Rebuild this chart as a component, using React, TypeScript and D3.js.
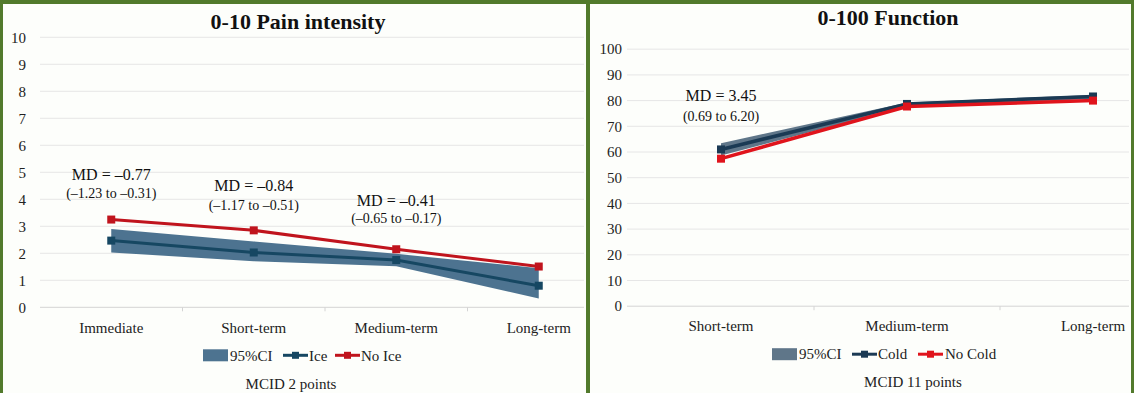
import React, { useEffect } from "react";
import * as d3 from "d3";

const W = 1134;
const H = 393;

// Pain panel data
const painCats = ["Immediate", "Short-term", "Medium-term", "Long-term"];
const painIce = [2.47, 2.03, 1.75, 0.8];
const painNoIce = [3.25, 2.85, 2.15, 1.51];
const painCiLow = [2.03, 1.71, 1.52, 0.33];
const painCiHigh = [2.9, 2.44, 1.98, 1.45];
const painTicks = [0, 1, 2, 3, 4, 5, 6, 7, 8, 9, 10];
const painNotes = [
  { cat: "Immediate", md: "MD = \u20130.77", ci: "(\u20131.23 to \u20130.31)", yMd: 4.94, yCi: 4.23 },
  { cat: "Short-term", md: "MD = \u20130.84", ci: "(\u20131.17 to \u20130.51)", yMd: 4.53, yCi: 3.79 },
  { cat: "Medium-term", md: "MD = \u20130.41", ci: "(\u20130.65 to \u20130.17)", yMd: 3.97, yCi: 3.31 },
];

// Function panel data
const funcCats = ["Short-term", "Medium-term", "Long-term"];
const funcCold = [61.0, 78.7, 81.6];
const funcNoCold = [57.4, 77.7, 80.0];
const funcCiLow = [58.6, 77.6, 80.6];
const funcCiHigh = [63.4, 79.3, 82.2];
const funcTicks = [0, 10, 20, 30, 40, 50, 60, 70, 80, 90, 100];
const funcNotes = [
  { cat: "Short-term", md: "MD = 3.45", ci: "(0.69 to 6.20)", yMd: 82.2, yCi: 74.0 },
];

const FONT = "'Liberation Serif', 'Times New Roman', serif";
const GREEN = "#527a2c";

type PanelProps = {
  title: string;
  titleX: number;
  titleY: number;
  cats: string[];
  treat: number[];
  ctrl: number[];
  lo: number[];
  hi: number[];
  ticks: number[];
  notes: { cat: string; md: string; ci: string; yMd: number; yCi: number }[];
  x: d3.ScaleBand<string>;
  y: d3.ScaleLinear<number, number>;
  gridX0: number;
  gridX1: number;
  labelX: number;
  bandColor: string;
  treatColor: string;
  ctrlColor: string;
  lineW: number;
  treatName: string;
  ctrlName: string;
  legendX: number;
  legendOff: number[]; // box text, treat line, treat text, ctrl line, ctrl text
  mcid: string;
  mcidX: number;
};

function Panel(p: PanelProps) {
  const cx = (c: string) => (p.x(c) ?? 0) + p.x.bandwidth() / 2;
  const pts = (vals: number[]) => vals.map((v, i) => [cx(p.cats[i]), p.y(v)] as [number, number]);
  const line = d3.line<[number, number]>();
  const area = d3
    .area<number>()
    .x((_, i) => cx(p.cats[i]))
    .y0((_, i) => p.y(p.lo[i]))
    .y1((_, i) => p.y(p.hi[i]));
  const boundaries = p.cats.slice(1).map((c) => p.x(c) ?? 0);
  const y0 = p.y(0);
  const ms = 8;
  const [o1, o2, o3, o4, o5] = p.legendOff;

  return (
    <g fontFamily={FONT}>
      <text x={p.titleX} y={p.titleY} textAnchor="middle" fontSize={22} fontWeight="bold" fill="#111">
        {p.title}
      </text>
      {p.ticks.map((t) => (
        <g key={t}>
          <line x1={p.gridX0} x2={p.gridX1} y1={p.y(t)} y2={p.y(t)} stroke={t === 0 ? "#d4d4d4" : "#e6e6e6"} strokeWidth={1} />
          <text x={p.labelX} y={p.y(t)} dy="0.35em" textAnchor="end" fontSize={15} fill="#222">
            {t}
          </text>
        </g>
      ))}
      {boundaries.map((b, i) => (
        <line key={i} x1={b} x2={b} y1={y0} y2={y0 + 4} stroke="#d4d4d4" />
      ))}
      {p.cats.map((c) => (
        <text key={c} x={cx(c)} y={y0 + 20} dy="0.35em" textAnchor="middle" fontSize={15} fill="#222">
          {c}
        </text>
      ))}
      <path d={area(p.lo) ?? ""} fill={p.bandColor} />
      <path d={line(pts(p.treat)) ?? ""} fill="none" stroke={p.treatColor} strokeWidth={p.lineW} />
      <path d={line(pts(p.ctrl)) ?? ""} fill="none" stroke={p.ctrlColor} strokeWidth={p.lineW} />
      {pts(p.treat).map(([px, py], i) => (
        <rect key={"t" + i} x={px - ms / 2} y={py - ms / 2} width={ms} height={ms} fill={p.treatColor} />
      ))}
      {pts(p.ctrl).map(([px, py], i) => (
        <rect key={"c" + i} x={px - ms / 2} y={py - ms / 2} width={ms} height={ms} fill={p.ctrlColor} />
      ))}
      {p.notes.map((n) => (
        <g key={n.cat}>
          <text x={cx(n.cat)} y={p.y(n.yMd)} dy="0.35em" textAnchor="middle" fontSize={16} fill="#111">
            {n.md}
          </text>
          <text x={cx(n.cat)} y={p.y(n.yCi)} dy="0.35em" textAnchor="middle" fontSize={14} fill="#111">
            {n.ci}
          </text>
        </g>
      ))}
      <g transform={`translate(${p.legendX},${y0 + 48})`} fontSize={15} fill="#222">
        <rect x={0} y={-6} width={25} height={12} fill={p.bandColor} />
        <text x={o1} dy="0.35em">95%CI</text>
        <line x1={o2} x2={o2 + 25} stroke={p.treatColor} strokeWidth={3} />
        <rect x={o2 + 9} y={-3.5} width={7} height={7} fill={p.treatColor} />
        <text x={o3} dy="0.35em">{p.treatName}</text>
        <line x1={o4} x2={o4 + 25} stroke={p.ctrlColor} strokeWidth={3} />
        <rect x={o4 + 9} y={-3.5} width={7} height={7} fill={p.ctrlColor} />
        <text x={o5} dy="0.35em">{p.ctrlName}</text>
      </g>
      <text x={p.mcidX} y={y0 + 76} dy="0.35em" textAnchor="middle" fontSize={15} fill="#222">
        {p.mcid}
      </text>
    </g>
  );
}

export default function App() {
  useEffect(() => {
    document.body.style.margin = "0";
  }, []);

  const xPain = d3.scaleBand<string>().domain(painCats).range([40, 610]).padding(0);
  const yPain = d3.scaleLinear().domain([0, 10]).range([307.3, 37.3]);
  const xFunc = d3.scaleBand<string>().domain(funcCats).range([628, 1186]).padding(0);
  const yFunc = d3.scaleLinear().domain([0, 100]).range([306.2, 49.2]);

  return (
    <svg width={W} height={H} style={{ display: "block", background: "#fdfefb" }}>
      <rect x={0} y={0} width={W} height={H} fill="#fdfefb" />
      <Panel
        title="0-10 Pain intensity"
        titleX={298}
        titleY={29}
        cats={painCats}
        treat={painIce}
        ctrl={painNoIce}
        lo={painCiLow}
        hi={painCiHigh}
        ticks={painTicks}
        notes={painNotes}
        x={xPain}
        y={yPain}
        gridX0={40}
        gridX1={584}
        labelX={26}
        bandColor="#4d7390"
        treatColor="#164762"
        ctrlColor="#c0141d"
        lineW={3}
        treatName="Ice"
        ctrlName="No Ice"
        legendX={203}
        legendOff={[27, 80, 106, 132, 158]}
        mcid="MCID 2 points"
        mcidX={291}
      />
      <Panel
        title="0-100 Function"
        titleX={888}
        titleY={25}
        cats={funcCats}
        treat={funcCold}
        ctrl={funcNoCold}
        lo={funcCiLow}
        hi={funcCiHigh}
        ticks={funcTicks}
        notes={funcNotes}
        x={xFunc}
        y={yFunc}
        gridX0={627}
        gridX1={1129}
        labelX={622}
        bandColor="#5f7689"
        treatColor="#1b3a54"
        ctrlColor="#e0141c"
        lineW={3.5}
        treatName="Cold"
        ctrlName="No Cold"
        legendX={772}
        legendOff={[27, 80, 106, 146, 173]}
        mcid="MCID 11 points"
        mcidX={913}
      />
      {/* green frame */}
      <rect x={0} y={0} width={W} height={4} fill={GREEN} />
      <rect x={0} y={0} width={3} height={H} fill={GREEN} />
      <rect x={586} y={0} width={4} height={H} fill={GREEN} />
      <rect x={1131} y={0} width={3} height={H} fill={GREEN} />
    </svg>
  );
}
